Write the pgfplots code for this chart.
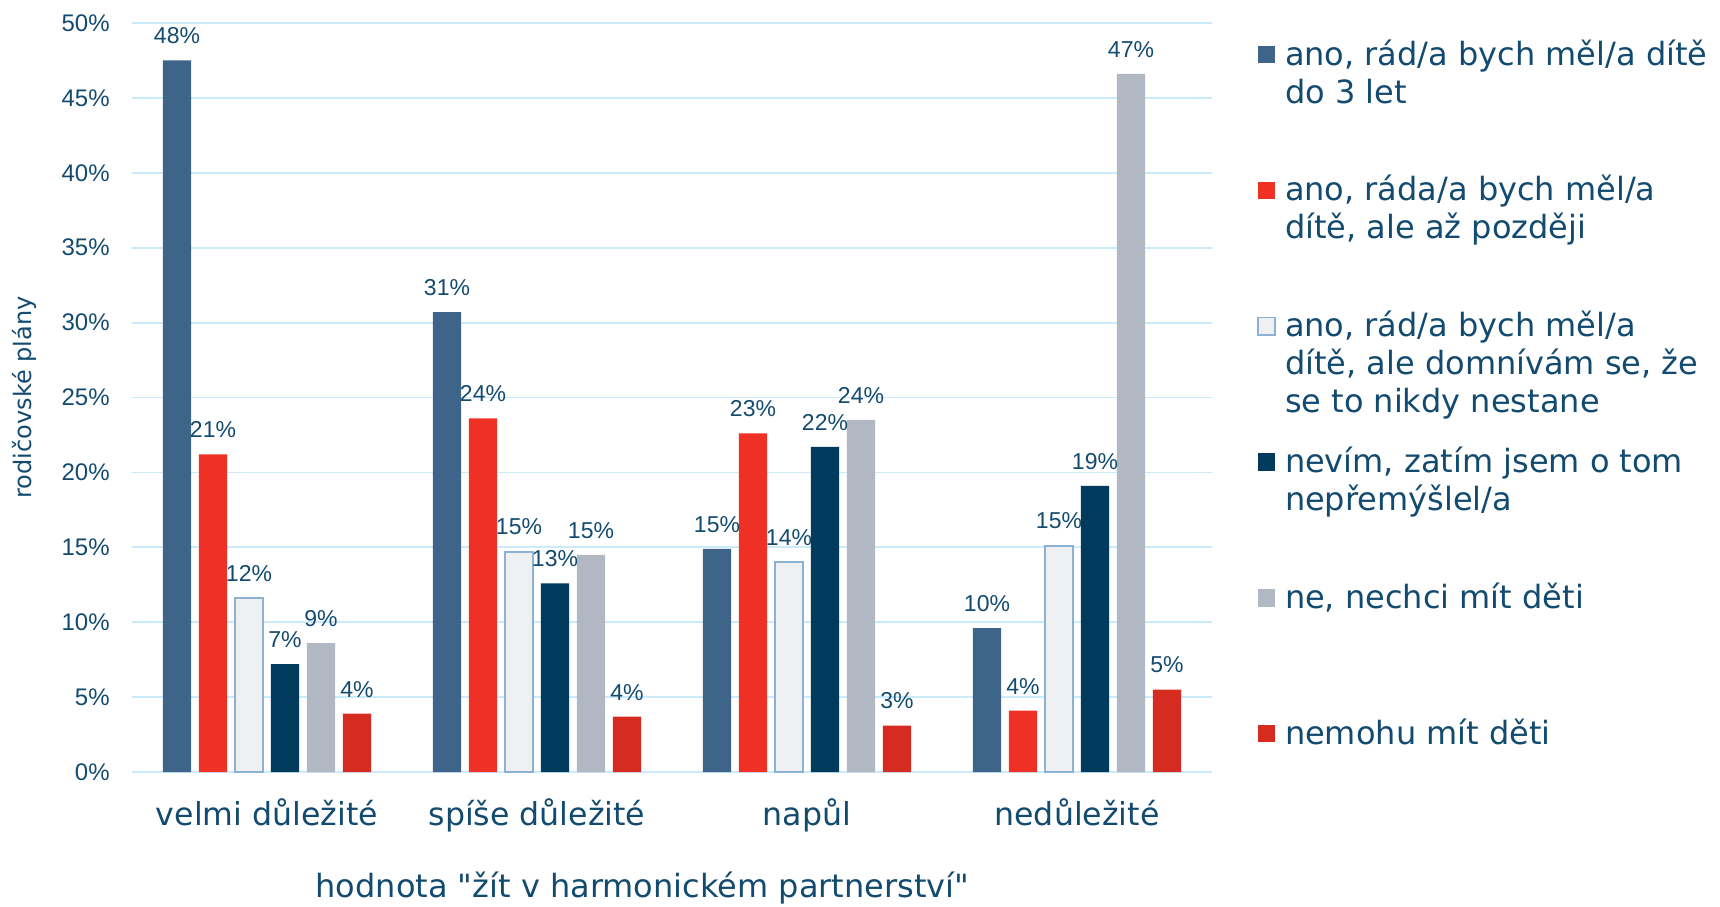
\documentclass[border=0pt]{standalone}
\usepackage{fontspec}
\setmainfont{DejaVu Sans}[Ligatures=TeXOff]
\newfontfamily\arialf{Liberation Sans}
\usepackage{pgfplots}
\pgfplotsset{compat=1.18}
\definecolor{txt}{HTML}{134B70}
\definecolor{c1}{HTML}{3E6589}
\definecolor{c2}{HTML}{EE3124}
\definecolor{c3}{HTML}{EFF0F2}
\definecolor{c3b}{HTML}{8DB0D5}
\definecolor{c4}{HTML}{003B5E}
\definecolor{c5}{HTML}{B1B8C4}
\definecolor{c6}{HTML}{D62B20}
\definecolor{gridc}{HTML}{CBEAFA}
\newcommand{\legtext}[1]{\parbox[t][67.9pt][t]{215pt}{\raggedright\fontsize{16pt}{19pt}\selectfont\strut #1}}
\pgfplotsset{sqlegend/.style={legend image code/.code={\path[##1] (0pt,0.8pt) rectangle (8.7pt,9.5pt);}}}
\begin{document}
\begin{tikzpicture}
\path[use as bounding box] (-66pt,-67pt) rectangle (794pt,386pt);
\begin{axis}[
  scale only axis, width=540pt, height=374.5pt,
  xmin=-0.5, xmax=3.5, ymin=0, ymax=50,
  ybar, bar width=0.104,
  axis line style={draw=none}, major tick length=0pt,
  ytick={0,5,...,50}, ymajorgrids, grid style={gridc, line width=0.9pt},
  xtick={0,1,2,3}, xticklabels={velmi důležité, spíše důležité, napůl, nedůležité},
  xticklabel style={font=\fontsize{15.8pt}{18pt}\selectfont, text=txt, anchor=base, yshift=-26.5pt, inner sep=0pt},
  yticklabel={\pgfmathprintnumber{\tick}\%},
  yticklabel style={font=\arialf\fontsize{12pt}{14pt}\selectfont, text=txt, /pgf/number format/assume math mode=true, anchor=east, xshift=-11pt, inner sep=0pt},
  xlabel={hodnota "žít v harmonickém partnerství"},
  xlabel style={at={(axis description cs:0.5,0)}, anchor=base, yshift=-62.6pt, xshift=-14.8pt, font=\fontsize{16pt}{18pt}\selectfont, text=txt, inner sep=0pt},
  ylabel={rodičovské plány},
  ylabel style={at={(axis description cs:-0.1,0.5)}, anchor=center, font=\fontsize{12pt}{14pt}\selectfont, text=txt, inner sep=0pt},
  point meta=explicit symbolic,
  nodes near coords={\pgfplotspointmeta\%},
  every node near coord/.append style={font=\arialf\fontsize{11.5pt}{13pt}\selectfont, text=txt, anchor=south, inner sep=0pt, yshift=8pt},
  legend style={at={(axis description cs:1,1)}, anchor=north west, xshift=22.5pt, yshift=-7.7pt, draw=none, fill=none, inner sep=0pt, outer sep=0pt, nodes={inner sep=0pt, text depth=, text=txt}, column sep=4.5pt, row sep=0pt, cells={anchor=base west}},
]
\addplot[fill=c1, draw=none, bar shift=-0.3333, sqlegend] coordinates {(0,47.5) [48] (1,30.7) [31] (2,14.9) [15] (3,9.6) [10]};
\addlegendentry{\legtext{ano, rád/a bych měl/a dítě\\do 3 let}}
\addplot[fill=c2, draw=none, bar shift=-0.2, sqlegend] coordinates {(0,21.2) [21] (1,23.6) [24] (2,22.6) [23] (3,4.1) [4]};
\addlegendentry{\legtext{ano, ráda/a bych měl/a\\dítě, ale až později}}
\addplot[fill=c3, draw=c3b, line width=0.8pt, bar shift=-0.0667, sqlegend] coordinates {(0,11.6) [12] (1,14.7) [15] (2,14.0) [14] (3,15.1) [15]};
\addlegendentry{\legtext{ano, rád/a bych měl/a\\dítě, ale domnívám se, že\\se to nikdy nestane}}
\addplot[fill=c4, draw=none, bar shift=0.0667, sqlegend] coordinates {(0,7.2) [7] (1,12.6) [13] (2,21.7) [22] (3,19.1) [19]};
\addlegendentry{\legtext{nevím, zatím jsem o tom\\nepřemýšlel/a}}
\addplot[fill=c5, draw=none, bar shift=0.2, sqlegend] coordinates {(0,8.6) [9] (1,14.5) [15] (2,23.5) [24] (3,46.6) [47]};
\addlegendentry{\legtext{ne, nechci mít děti}}
\addplot[fill=c6, draw=none, bar shift=0.3333, sqlegend] coordinates {(0,3.9) [4] (1,3.7) [4] (2,3.1) [3] (3,5.5) [5]};
\addlegendentry{\legtext{nemohu mít děti}}
\end{axis}
\end{tikzpicture}
\end{document}
